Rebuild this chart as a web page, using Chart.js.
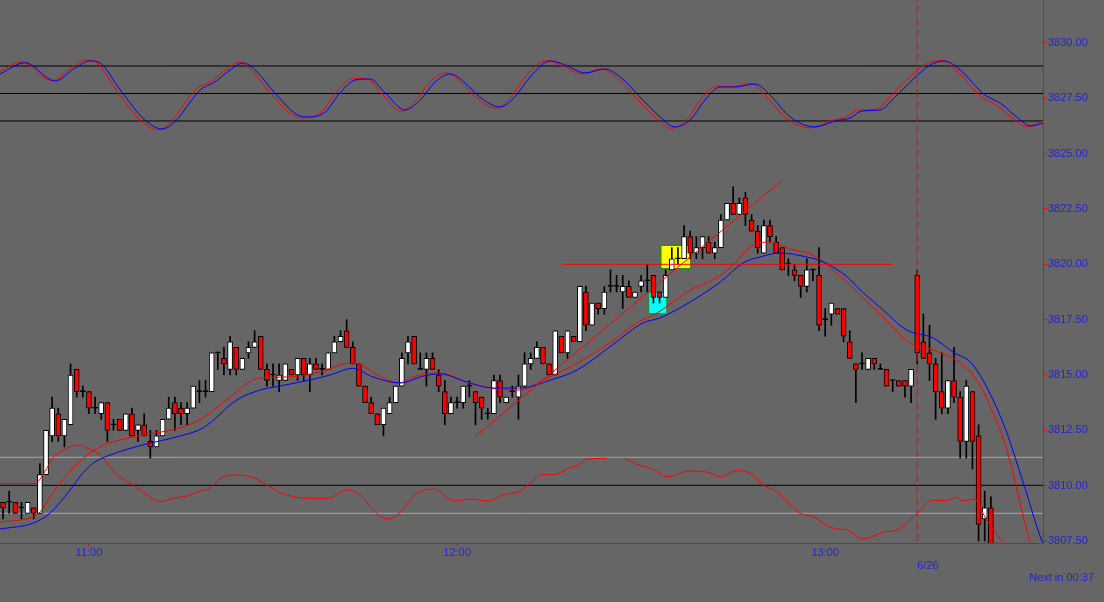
<!DOCTYPE html>
<html><head><meta charset="utf-8">
<script src="https://cdn.jsdelivr.net/npm/chart.js@4.4.1/dist/chart.umd.min.js"></script>
<style>html,body{margin:0;padding:0;background:#666666;overflow:hidden}canvas{display:block}</style>
</head><body>
<canvas id="c" width="1104" height="602"></canvas>
<script>
// ---------- DATA ----------
const opens = [3809.25,3809.25,3809.25,3809.0,3808.75,3809.0,3808.75,3810.5,3812.25,3813.25,
3812.25,3812.75,3815.25,3814.25,3814.25,3813.5,3813.25,3813.75,3812.75,3813.0,
3812.5,3813.25,3812.5,3812.75,3812.0,3811.75,3812.25,3813.0,3813.75,3813.5,
3813.25,3813.5,3814.25,3814.25,3814.25,3816.0,3815.75,3815.25,3816.25,3815.25,
3816.0,3816.25,3816.75,3815.25,3815.0,3814.75,3814.75,3815.25,3815.0,3815.75,
3815.0,3815.5,3815.25,3815.25,3816.0,3816.5,3817.0,3816.25,3815.5,3814.5,
3813.75,3813.25,3812.75,3813.25,3813.75,3814.5,3816.0,3816.75,3815.25,3815.25,
3815.75,3815.0,3814.25,3813.25,3813.75,3813.75,3814.5,3814.25,3814.0,3813.25,
3813.25,3814.75,3813.75,3814.25,3814.0,3814.5,3815.5,3815.75,3816.25,3815.5,
3815.0,3816.75,3816.0,3816.75,3816.5,3818.75,3817.25,3818.25,3818.0,3819.0,
3819.0,3818.75,3819.0,3818.5,3819.0,3819.25,3819.5,3818.75,3818.5,3819.75,
3820.25,3820.25,3821.25,3820.5,3820.75,3821.0,3820.5,3820.75,3822.0,3822.75,
3822.25,3823.0,3822.0,3821.5,3820.5,3821.75,3821.0,3820.75,3820.0,3819.75,
3819.5,3819.0,3819.75,3819.5,3817.5,3817.75,3818.0,3818.0,3816.5,3815.5,
3815.5,3815.25,3815.75,3815.25,3815.25,3814.75,3814.75,3814.75,3814.5,3819.5,
3816.5,3816.0,3815.5,3814.25,3813.5,3814.75,3814.0,3812.0,3814.25,3812.25,
3808.5,3809.0];
const highs = [3809.25,3809.75,3809.25,3809.25,3809.25,3809.0,3811.0,3812.5,3814.0,3813.5,
3813.0,3815.5,3815.25,3814.5,3814.25,3814.0,3813.75,3813.75,3813.0,3813.0,
3813.25,3813.5,3812.75,3813.25,3812.5,3812.5,3813.0,3814.0,3814.0,3813.75,
3813.75,3814.5,3814.75,3814.75,3816.0,3816.0,3816.25,3816.75,3816.25,3815.75,
3816.5,3817.0,3816.75,3815.5,3815.5,3815.5,3815.5,3815.25,3815.75,3815.75,
3815.75,3815.75,3815.5,3816.0,3816.75,3817.0,3817.5,3816.5,3815.5,3814.5,
3814.0,3813.25,3813.5,3814.0,3814.5,3816.0,3816.75,3816.75,3816.0,3816.0,
3816.0,3815.25,3814.75,3814.0,3814.0,3814.5,3814.75,3814.25,3814.0,3813.5,
3815.0,3815.0,3814.0,3814.5,3815.0,3816.0,3816.0,3816.5,3816.25,3815.5,
3817.0,3816.75,3817.0,3816.75,3819.0,3819.0,3818.25,3818.25,3819.0,3819.75,
3819.5,3819.5,3819.25,3818.75,3819.5,3820.0,3819.5,3818.75,3819.75,3820.75,
3820.75,3821.75,3821.5,3821.25,3821.25,3821.25,3821.0,3822.25,3822.75,3823.5,
3823.0,3823.25,3822.25,3821.75,3822.0,3822.0,3821.25,3820.75,3820.25,3820.0,
3819.5,3820.25,3819.75,3820.75,3818.0,3818.25,3818.0,3818.0,3817.0,3815.5,
3816.0,3815.75,3815.75,3815.5,3815.25,3814.75,3814.75,3814.75,3815.25,3819.75,
3817.75,3817.25,3815.75,3816.0,3814.75,3816.25,3814.25,3814.75,3814.25,3812.75,
3809.75,3809.5];
const lows = [3808.5,3808.75,3808.75,3808.5,3808.75,3808.5,3808.75,3810.5,3812.0,3812.0,
3811.75,3812.75,3814.0,3814.0,3813.25,3813.25,3813.0,3812.0,3812.5,3812.5,
3812.5,3812.25,3812.0,3812.25,3811.25,3811.75,3812.25,3813.0,3812.5,3812.75,
3812.75,3813.5,3813.75,3814.0,3814.25,3815.25,3815.0,3815.0,3815.0,3815.25,
3815.75,3816.25,3815.25,3814.5,3814.5,3814.25,3814.75,3815.0,3814.75,3814.75,
3814.25,3815.25,3815.0,3815.25,3816.0,3816.5,3816.25,3815.5,3814.5,3813.75,
3813.25,3812.75,3812.25,3813.25,3813.75,3814.5,3815.5,3815.5,3815.25,3814.5,
3815.25,3814.25,3812.75,3813.25,3813.5,3813.5,3814.0,3812.75,3813.0,3813.0,
3813.25,3813.75,3813.75,3814.0,3813.0,3814.5,3815.25,3815.75,3815.5,3815.0,
3815.0,3816.0,3815.75,3816.5,3816.5,3817.0,3817.25,3817.75,3817.75,3818.75,
3818.75,3818.0,3818.5,3818.5,3818.75,3818.75,3818.25,3818.25,3818.5,3819.75,
3820.0,3820.25,3820.25,3820.25,3820.25,3820.5,3820.25,3820.75,3822.0,3822.25,
3822.25,3821.75,3821.5,3820.5,3820.5,3821.0,3820.5,3819.75,3819.5,3819.25,
3818.5,3818.75,3819.25,3817.0,3816.75,3817.25,3817.75,3816.5,3815.75,3813.75,
3815.25,3815.25,3815.25,3815.25,3814.5,3814.25,3814.5,3814.0,3813.75,3815.5,
3815.75,3814.75,3813.0,3813.25,3813.25,3813.75,3811.25,3811.25,3810.75,3807.5,
3807.5,3807.0];
const closes = [3809.0,3809.25,3808.75,3809.0,3809.25,3808.75,3810.5,3812.5,3813.5,3812.25,
3813.0,3815.0,3814.25,3814.25,3813.5,3813.5,3813.75,3812.5,3812.75,3812.5,
3813.25,3812.25,3812.75,3812.25,3811.75,3812.25,3813.0,3813.5,3813.25,3813.25,
3813.5,3814.5,3814.25,3814.25,3816.0,3816.0,3815.5,3816.5,3815.25,3815.75,
3816.25,3816.5,3815.25,3814.75,3815.0,3815.0,3815.5,3815.0,3815.75,3815.0,
3815.5,3815.25,3815.25,3816.0,3816.5,3816.75,3816.25,3815.5,3814.5,3813.75,
3813.25,3812.75,3813.5,3813.75,3814.5,3815.75,3816.5,3815.5,3815.25,3815.75,
3815.25,3814.5,3813.25,3813.75,3813.75,3814.5,3814.5,3813.75,3813.5,3813.25,
3814.75,3814.0,3814.0,3814.25,3814.5,3815.5,3815.75,3816.25,3815.5,3815.0,
3817.0,3816.0,3817.0,3816.5,3819.0,3817.25,3818.25,3818.0,3818.75,3819.0,
3819.0,3819.0,3818.5,3818.75,3819.25,3819.25,3818.5,3818.5,3819.5,3820.25,
3820.25,3821.25,3820.5,3820.75,3821.25,3820.5,3820.75,3822.0,3822.75,3822.25,
3822.75,3822.25,3821.5,3820.75,3821.75,3821.25,3820.5,3819.75,3820.0,3819.5,
3819.0,3819.75,3819.75,3817.25,3817.5,3818.25,3817.75,3816.75,3815.75,3815.25,
3815.5,3815.75,3815.5,3815.25,3814.5,3814.75,3814.5,3814.5,3815.25,3816.0,
3815.75,3815.5,3814.25,3813.5,3814.75,3814.0,3812.0,3814.5,3812.0,3808.25,
3809.0,3807.25];

// x tick positions (candle index) and their labels
const timeTickIndex = [14, 74, 134];
const timeTickLabels = ['11:00', '12:00', '13:00'];
const dayStartIndex = 149;
const dayLabel = '6/26';
const countdownText = 'Next in 00:37';
const priceTicks = [3807.5, 3810, 3812.5, 3815, 3817.5, 3820, 3822.5, 3825, 3827.5, 3830];
const priceMin = 3807.41, priceMax = 3831.94;

// moving averages [index, price]
const maFast = [[-0.5,3808.36],[5.5,3808.68],[8.1,3809.67],[11.4,3810.8],[15.8,3811.75],[21.2,3812.2],
[28.8,3812.61],[32.6,3813.06],[37,3814.01],[41.9,3814.87],[46.3,3814.91],[51.7,3815.14],[56.6,3815.54],
[58,3815.5],[61,3815.0],[64.7,3814.64],[66.8,3814.91],[71.2,3815.09],[75.6,3814.68],[79.4,3814.41],
[84.3,3814.32],[88,3814.77],[93.6,3815.54],[98.9,3816.45],[103.3,3817.35],[106.6,3817.8],[112,3818.84],
[115.7,3819.29],[119,3819.97],[121.8,3820.78],[125,3821.01],[128.3,3820.69],[132,3820.42],[135.3,3819.74],
[138,3819.07],[143.4,3817.62],[148.3,3816.36],[151.6,3816.13],[158.1,3815.0],[161.4,3813.28],
[163.6,3811.61],[167.4,3807.45],[169.5,3805.8]];
const maSlow = [[-0.5,3808.04],[4.9,3808.31],[7.7,3808.77],[10.9,3809.8],[13.1,3810.6],[14.7,3811.02],
[17.9,3811.43],[22.8,3811.84],[28.8,3812.24],[32.6,3812.61],[38.1,3813.87],[41.9,3814.32],[45.1,3814.5],
[50,3814.77],[53.3,3815.0],[57,3815.3],[60.3,3814.91],[64.7,3814.64],[68.5,3814.95],[71.2,3815.05],
[75.6,3814.68],[79.9,3814.41],[84.3,3814.41],[89.2,3814.77],[93.6,3815.23],[98.9,3816.27],[104.3,3817.35],
[107.1,3817.58],[112,3818.3],[116.9,3819.2],[120.6,3820.06],[123.4,3820.33],[126.6,3820.51],[131,3820.33],
[133.7,3820.11],[137.6,3819.43],[139.7,3818.84],[142.9,3818.07],[147.3,3817.03],[151.6,3816.67],
[154.8,3816.04],[158.1,3815.45],[163,3812.83],[166.3,3810.12],[169.4,3807.45],[169.5,3807.4]];

// oscillator (top band) [index, value 0-100]
const oscBlue = [[-0.5,71.3],[3.6,83.6],[8.5,63.6],[11.7,77.8],[14.2,85.5],[15.8,83.3],[19.1,53.8],[23.1,21.1],
[25.9,11.3],[28,19],[30.5,40.7],[32.1,53.8],[34.5,62.5],[37,75.6],[39.1,83.3],[41.1,75.6],[44.3,50.5],
[48.4,25.5],[50,24.4],[52.5,29.8],[54.9,50.5],[57.4,64.7],[59.8,65.8],[62.3,50.5],[65.5,32],[68,42.9],
[70.4,62.5],[72.9,71.3],[75.3,61.5],[77.7,46.2],[81,35.3],[83.4,46.2],[85.9,68],[89.2,85.5],[91.6,81.1],
[94.9,72.4],[98.1,76.7],[100.6,68],[103.8,46.2],[107.1,24.4],[109.5,13.5],[112,21.1],[114.4,42.9],
[116.9,57.1],[119.3,57.1],[122.6,60.4],[125,48.4],[128.3,24.4],[132.3,13.5],[135.6,20],[138.1,23.3],
[140,30.9],[142.9,32],[145.4,46.2],[148.2,64.7],[151.1,81.1],[153.5,85.5],[156,75.6],[160,48.4],
[162.5,39.6],[165.8,21.1],[167.4,14.6],[169,16.7],[169.5,17.5]];
const oscRed = [[-0.5,74],[3,84.5],[8,64],[11.2,78.5],[13.6,86.5],[15.3,83.5],[18.5,53],[22.5,20],[25.3,10.5],
[27.4,19.5],[29.9,42],[31.5,55],[34,63.5],[36.4,76.5],[38.5,84],[40.5,75],[43.7,49.5],[47.8,24.5],
[49.4,23.5],[51.9,30],[54.3,51.5],[56.8,66],[59.2,66.5],[61.7,50],[64.9,30.5],[67.4,43.5],[69.8,64],
[72.2,72.5],[74.7,62],[77.1,45.5],[80.4,34],[82.8,46.5],[85.3,69.5],[88.6,86],[91,81],[94.3,71.5],
[97.5,77],[100,67.5],[103.2,45],[106.5,23],[108.9,12],[111.4,21],[113.8,44.5],[116.3,58],[118.7,57.5],
[122,61],[124.4,47],[127.7,22.5],[131.7,12.5],[135,20.5],[137.5,24.5],[139.4,32],[142.3,33],[144.8,48],
[147.6,67],[150.5,82.5],[152.9,86],[155.4,75],[159.4,46.5],[161.9,37.5],[165.2,19.5],[166.8,13.5],
[168.5,17],[169.5,20]];
const oscLevels = [80, 50, 20];

// lower band indicator [index, value]
const bandLine = [[-0.5,51.4],[5.2,51.4],[6.8,59.7],[8.1,69.3],[10.4,76.4],[12.2,78.8],[13.8,76.4],[15.8,71.6],
[18.6,57.4],[21.2,50.2],[23.5,43.1],[25.6,38.3],[27.7,40.7],[30,42.4],[32.1,45.9],[33.7,47.9],[35.4,55],
[37.3,57.4],[40.7,55.7],[43,50.2],[44.7,45.9],[47.3,41.9],[50.5,40.7],[52.8,40.7],[56.1,46.6],[58.2,43.1],
[60.3,32.4],[62.6,25.9],[64.7,30.4],[67.1,43.1],[70.1,47.4],[73.7,38.8],[76.1,40.2],[79,38.8],[81.5,43.1],
[84.3,45.9],[85.9,51.4],[88,57.9],[89.6,57.4],[92.4,62.6],[93.6,64],[95.2,68.8],[98.4,69.3],[99.9,null],
[101.4,69.3],[103.3,65],[105.9,61.6],[108.2,56.1],[112,60.2],[115.2,59],[116.9,56.1],[119.6,60.4],
[121.8,58.6],[123.9,50.2],[126.2,45.4],[129.9,30],[132,27.6],[135.3,19.3],[137.6,18.1],[140.2,11.6],
[143.4,16.4],[145.7,18.1],[149,30],[151.6,39.5],[153.9,39],[155.2,41.6],[156.5,39],[158.4,40.2],
[159.7,30],[162,14.5],[163,8.8]];
const bandLevels = [70, 50, 30];

// drawn objects
const trendLine = [[76.9,3812.2],[126.97,3823.8]];
const levelLine = [[91.1,3820.0],[145.06,3820.0]];
const boxes = [
  {x0:107.2, x1:112.1, y0:3819.8, y1:3820.86, kind:'yellow'},
  {x0:105.2, x1:108.2, y0:3817.76, y1:3818.76, kind:'cyan'}
];

// ---------- STYLE ----------
const RED = '#ff0000', BLUE = '#0000ff', TXT = '#2424d8', BG = '#666666';
const FONT = {family:'"Liberation Sans", Arial, sans-serif', size:11, weight:'normal'};
const boxFill = {yellow:'#ffff00', cyan:'#00ffff'};

const pts = a => a.map(p => ({x:p[0], y:p[1]}));
const span = v => [{x:-0.5, y:v}, {x:169.5, y:v}];

const bodyColor = opens.map((o,i) => closes[i] > o ? '#ffffff' : (closes[i] < o ? RED : '#000000'));

const datasets = [];
// level lines
oscLevels.forEach(v => datasets.push({type:'line', data:span(v), yAxisID:'osc', borderColor:'#000000', borderWidth:1, pointRadius:0, order:9}));
bandLevels.forEach((v,k) => datasets.push({type:'line', data:span(v), yAxisID:'band', borderColor: k===1 ? '#000000' : '#a8a8a8', borderWidth:1, pointRadius:0, order:9}));
// wicks
datasets.push({type:'bar', data: opens.map((_,i)=>({x:i, y:[lows[i], highs[i]]})), backgroundColor:'#000000', borderWidth:0, barThickness:1, grouped:false, order:8});
// bodies
datasets.push({type:'bar', data: opens.map((o,i)=>({x:i, y:[o, closes[i]]})), backgroundColor: bodyColor, borderColor:'#000000', borderWidth:1, borderSkipped:false, barThickness:5, minBarLength:1, grouped:false, order:7});
// indicators
const lineDs = (data, color, axis, extra) => Object.assign({type:'line', data:pts(data), yAxisID:axis, borderColor:color, borderWidth:1, pointRadius:0, fill:false, cubicInterpolationMode:'monotone', order:2}, extra||{});
datasets.push(lineDs(maSlow, BLUE, 'y'));
datasets.push(lineDs(maFast, RED, 'y'));
datasets.push(lineDs(oscBlue, BLUE, 'osc'));
datasets.push(lineDs(oscRed, RED, 'osc'));
datasets.push(lineDs(bandLine, RED, 'band'));
datasets.push(lineDs(trendLine, RED, 'y', {cubicInterpolationMode:'default', tension:0, order:1}));
datasets.push(lineDs(levelLine, RED, 'y', {cubicInterpolationMode:'default', tension:0, order:1}));
datasets.push(lineDs([[dayStartIndex, priceMin-1],[dayStartIndex, priceMax+1]], RED, 'y', {cubicInterpolationMode:'default', tension:0, borderDash:[8,4], order:1}));

const bgPlugin = {
  id:'bg',
  beforeDraw(chart){ const c=chart.ctx; c.save(); c.fillStyle=BG; c.fillRect(0,0,chart.width,chart.height); c.restore(); },
  beforeDatasetsDraw(chart){
    const c=chart.ctx, x=chart.scales.x, y=chart.scales.y;
    c.save();
    boxes.forEach(b=>{
      const l=x.getPixelForValue(b.x0), r=x.getPixelForValue(b.x1), t=y.getPixelForValue(b.y1), btm=y.getPixelForValue(b.y0);
      c.fillStyle=boxFill[b.kind]; c.fillRect(l,t,r-l,btm-t);
      c.strokeStyle='#2e8b22'; c.lineWidth=1.5; c.strokeRect(l,t,r-l,btm-t);
    });
    c.restore();
  },
  afterDraw(chart){
    const c=chart.ctx, x=chart.scales.x;
    c.save(); c.fillStyle=TXT; c.font='11px "Liberation Sans", Arial, sans-serif';
    c.textAlign='left'; c.textBaseline='middle';
    c.fillText(dayLabel, x.getPixelForValue(dayStartIndex), x.top + 3 + 6.6 + 13.2);
    c.restore();
  }
};

new Chart(document.getElementById('c'), {
  type:'bar',
  data:{datasets},
  plugins:[bgPlugin],
  options:{
    responsive:false, animation:false, devicePixelRatio:1, events:[],
    layout:{padding:{left:0, top:0, right:10, bottom:0}},
    plugins:{
      legend:{display:false}, tooltip:{enabled:false},
      title:{display:true, text:countdownText, position:'bottom', align:'end', color:TXT, font:FONT, padding:{top:0, bottom:17.9}}
    },
    scales:{
      x:{type:'linear', min:-0.5, max:169.5, offset:false,
        grid:{display:true, drawOnChartArea:false, drawTicks:true, tickLength:3, color:RED, offset:false},
        border:{display:true, color:RED, width:1},
        ticks:{color:TXT, font:FONT, padding:0, autoSkip:false, maxRotation:0, minRotation:0,
          callback:(v,i)=>timeTickLabels[i]},
        afterBuildTicks:s=>{ s.ticks = timeTickIndex.map(v=>({value:v})); },
        afterFit:s=>{ s.height=27.9; s.paddingLeft=0; s.paddingRight=0; }
      },
      y:{type:'linear', position:'right', min:priceMin, max:priceMax,
        grid:{display:true, drawOnChartArea:false, drawTicks:true, tickLength:4, color:RED},
        border:{display:true, color:RED, width:1},
        ticks:{color:TXT, font:FONT, padding:1, callback:v=>Number(v).toFixed(2)},
        afterBuildTicks:s=>{ s.ticks = priceTicks.map(v=>({value:v})); },
        afterFit:s=>{ s.width=51; s.paddingTop=0; s.paddingBottom=0; }
      },
      osc:{type:'linear', axis:'y', position:'right', display:false, min:-440.4, max:152},
      band:{type:'linear', axis:'y', position:'right', display:false, min:8.8, max:396.6}
    }
  }
});
</script>
</body></html>
